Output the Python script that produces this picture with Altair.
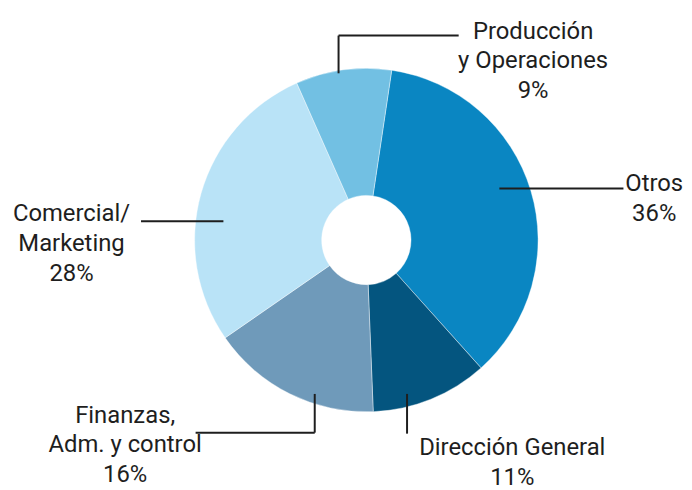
import math
import altair as alt
import pandas as pd

# ---- data ----
categories = ["Otros", "Dirección General", "Finanzas, Adm. y control",
              "Comercial/ Marketing", "Producción y Operaciones"]
values = [36, 11, 16, 28, 9]
name_lines = [["Otros"], ["Dirección General"], ["Finanzas,", "Adm. y control"],
              ["Comercial/", "Marketing"], ["Producción", "y Operaciones"]]
colors = ["#0a86c2", "#04557f", "#6f9aba", "#b9e3f7", "#72c0e3"]

# ---- layout (pixels, chart coordinates) ----
W, H = 676, 474
CX, CY = 361, 232
R_OUT, R_IN = 173, 45
START = math.radians(8.5)
# position of the first line of each label
label_pos = [(651, 176), (508, 442), (118, 409), (64, 206), (529, 22)]
leaders = [
    [(495, 180, 620, 180)],
    [(402, 387, 402, 427)],
    [(309, 387, 309, 426), (189, 426, 309, 426)],
    [(134, 213, 217, 213)],
    [(333, 64, 333, 26), (333, 26, 454, 26)],
]
FONT = "Roboto"
FS = 24
TXT = "#1e1e1e"

df = pd.DataFrame({
    "cat": categories,
    "value": values,
    "idx": list(range(len(categories))),
})

arcs = alt.Chart(df).mark_arc(
    innerRadius=R_IN, outerRadius=R_OUT, stroke="#ffffff", strokeWidth=0.4
).encode(
    theta=alt.Theta("value:Q", stack=True,
                    scale=alt.Scale(range=[START, START + 2 * math.pi])),
    color=alt.Color("cat:N", scale=alt.Scale(domain=categories, range=colors),
                    legend=None),
    order=alt.Order("idx:Q"),
    x=alt.value(CX),
    y=alt.value(CY),
)

lab_df = pd.DataFrame({
    "label": ["\n".join(n + [f"{v}%"]) for n, v in zip(name_lines, values)],
    "x": [p[0] for p in label_pos],
    "y": [p[1] for p in label_pos],
})
labels = alt.Chart(lab_df).mark_text(
    font=FONT, fontSize=FS, color=TXT, align="center", baseline="middle",
    lineBreak="\n", lineHeight=30,
).encode(
    x=alt.X("x:Q", scale=None, axis=None),
    y=alt.Y("y:Q", scale=None, axis=None),
    text="label:N",
)

segs = [s for group in leaders for s in group]
seg_df = pd.DataFrame({
    "x": [s[0] for s in segs], "y": [s[1] for s in segs],
    "x2": [s[2] for s in segs], "y2": [s[3] for s in segs],
})
lines = alt.Chart(seg_df).mark_rule(color="#1e1e1e", strokeWidth=2).encode(
    x=alt.X("x:Q", scale=None, axis=None),
    y=alt.Y("y:Q", scale=None, axis=None),
    x2="x2:Q",
    y2="y2:Q",
)

chart = alt.layer(arcs, lines, labels).properties(
    width=W, height=H, padding=0, background="#ffffff"
).configure_view(stroke=None)

chart.save("out.html", embed_options={"renderer": "svg", "actions": False})
